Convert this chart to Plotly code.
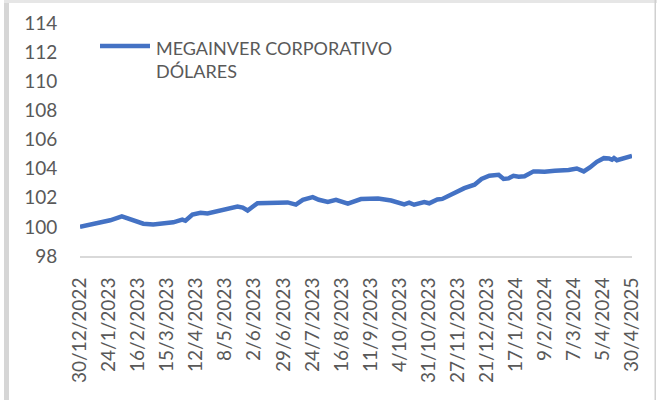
import plotly.graph_objects as go

# ---- data ----
date_labels = ["30/12/2022", "24/1/2023", "16/2/2023", "15/3/2023", "12/4/2023",
               "8/5/2023", "2/6/2023", "29/6/2023", "24/7/2023", "16/8/2023",
               "11/9/2023", "4/10/2023", "31/10/2023", "27/11/2023", "21/12/2023",
               "17/1/2024", "9/2/2024", "7/3/2024", "5/4/2024", "30/4/2025"]

# position along the category axis (in units of tick-label intervals)
t_pos = [0.00, 0.69, 1.04, 1.44, 1.83, 2.18, 2.52, 2.87, 3.21, 3.52,
         3.63, 3.87, 4.15, 4.39, 4.73, 4.94, 5.18, 5.42, 5.60, 5.77,
         6.11, 6.46, 6.81, 7.15, 7.43, 7.67, 8.01, 8.22, 8.53, 8.81,
         9.22, 9.67, 10.26, 10.71, 11.16, 11.33, 11.50, 11.85, 12.02, 12.30,
         12.47, 12.68, 12.95, 13.23, 13.58, 13.82, 14.09, 14.41, 14.58, 14.75,
         14.92, 15.10, 15.30, 15.61, 15.78, 15.99, 16.34, 16.82, 17.10, 17.34,
         17.55, 17.79, 18.03, 18.21, 18.31, 18.38, 18.48, 18.72, 19.00]

fund_values = [100.00, 100.27, 100.45, 100.72, 100.42, 100.22, 100.16, 100.27, 100.31, 100.50,
               100.42, 100.84, 100.97, 100.92, 101.08, 101.18, 101.36, 101.40, 101.32, 101.12,
               101.63, 101.63, 101.70, 101.68, 101.53, 101.86, 102.04, 101.86, 101.72, 101.86,
               101.59, 101.91, 101.95, 101.81, 101.54, 101.66, 101.52, 101.70, 101.62, 101.88,
               101.92, 102.12, 102.34, 102.66, 102.90, 103.29, 103.51, 103.58, 103.29, 103.33,
               103.51, 103.45, 103.48, 103.81, 103.81, 103.79, 103.86, 103.90, 104.01, 103.81,
               104.08, 104.47, 104.72, 104.70, 104.61, 104.72, 104.58, 104.69, 104.88]

series_name = "MEGAINVER CORPORATIVO<br>DÓLARES"
y_ticks = [98, 100, 102, 104, 106, 108, 110, 112, 114]

LINE_COLOR = "#4472C4"
TEXT_COLOR = "#595959"
FONT = "Lato"

fig = go.Figure()
fig.add_trace(go.Scatter(x=t_pos, y=fund_values, mode="lines",
                         line=dict(color=LINE_COLOR, width=4.5),
                         showlegend=False, hoverinfo="skip"))

L, R, T, B = 80, 25, 23, 144
W, H = 657, 400
pw, ph = W - L - R, H - T - B

def px(xp):
    return (xp - L) / pw

def py(yp):
    return (H - B - yp) / ph

fig.update_layout(
    width=W, height=H,
    margin=dict(l=L, r=R, t=T, b=B, pad=0),
    paper_bgcolor="white", plot_bgcolor="white",
    font=dict(family=FONT, color=TEXT_COLOR, size=19),
    xaxis=dict(range=[0, 19], tickmode="array", tickvals=list(range(len(date_labels))),
               ticktext=date_labels, tickangle=-90, showgrid=False, zeroline=False,
               showline=True, linecolor="#D9D9D9", linewidth=2,
               ticks="outside", ticklen=12, tickcolor="rgba(0,0,0,0)",
               tickfont=dict(family=FONT, size=19, color=TEXT_COLOR)),
    yaxis=dict(range=[98, 114], tickvals=y_ticks, showgrid=False, zeroline=False,
               showline=False, ticks="outside", ticklen=18, tickcolor="rgba(0,0,0,0)",
               tickfont=dict(family=FONT, size=19, color=TEXT_COLOR)),
)

# legend drawn manually (long line sample as in the reference)
fig.add_shape(type="line", xref="paper", yref="paper",
              x0=px(100), x1=px(150), y0=py(46), y1=py(46),
              line=dict(color=LINE_COLOR, width=4.5))
fig.add_annotation(xref="paper", yref="paper", x=px(154), y=py(59),
                   xanchor="left", yanchor="middle", align="left", showarrow=False,
                   text=series_name, font=dict(family=FONT, size=18, color=TEXT_COLOR))

# chart frame edges
fig.add_shape(type="rect", xref="paper", yref="paper", layer="above",
              x0=px(4), x1=px(9), y0=py(400), y1=py(0),
              line=dict(width=0), fillcolor="#D6D6D6")
fig.add_shape(type="rect", xref="paper", yref="paper", layer="above",
              x0=px(4), x1=px(657), y0=py(3), y1=py(0),
              line=dict(width=0), fillcolor="#E6E6E6")
fig.add_shape(type="rect", xref="paper", yref="paper", layer="above",
              x0=px(654.5), x1=px(656), y0=py(400), y1=py(0),
              line=dict(width=0), fillcolor="#D0D0D0")

fig.write_html("out.html")
